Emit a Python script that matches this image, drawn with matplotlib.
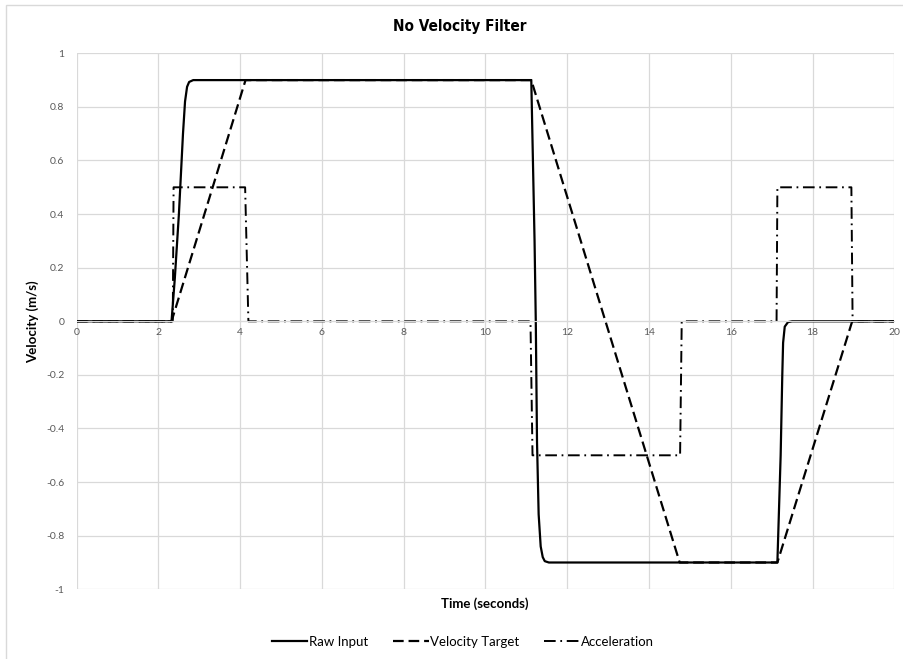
import matplotlib
matplotlib.use("Agg")
import matplotlib.pyplot as plt
from matplotlib.patches import Rectangle

plt.rcParams["font.family"] = ["Lato", "DejaVu Sans"]

# Raw Input (solid)
raw_t = [0, 2.32, 2.4, 2.5, 2.6, 2.65, 2.7, 2.75, 2.85,
         11.12, 11.2, 11.23, 11.26, 11.3, 11.35, 11.4, 11.45, 11.55,
         17.14, 17.18, 17.22, 17.26, 17.28, 17.32, 17.4, 17.5, 20]
raw_v = [0, 0, 0.16, 0.40, 0.70, 0.82, 0.875, 0.893, 0.9,
         0.9, 0.3, 0.0, -0.45, -0.72, -0.84, -0.88, -0.895, -0.9,
         -0.9, -0.7, -0.5, -0.2, -0.08, -0.02, -0.003, 0, 0]

# Velocity Target (dashed)
target_t = [0, 2.32, 4.13, 11.12, 14.75, 17.14, 18.97, 20]
target_v = [0, 0, 0.9, 0.9, -0.9, -0.9, 0, 0]

# Acceleration (dash-dot)
accel_t = [0, 2.35, 2.37, 4.12, 4.2, 11.1, 11.15, 14.76, 14.8, 17.12, 17.14, 18.95, 18.98, 20]
accel_v = [0, 0, 0.5, 0.5, 0, 0, -0.5, -0.5, 0, 0, 0.5, 0.5, 0, 0]

x_ticks = [0, 2, 4, 6, 8, 10, 12, 14, 16, 18, 20]
y_ticks = [1, 0.8, 0.6, 0.4, 0.2, 0, -0.2, -0.4, -0.6, -0.8, -1]
y_tick_labels = ["1", "0.8", "0.6", "0.4", "0.2", "0", "-0.2", "-0.4", "-0.6", "-0.8", "-1"]

W, H = 904, 659
fig = plt.figure(figsize=(W / 100, H / 100), dpi=100)
fig.patch.set_facecolor("white")
fig.patches.append(Rectangle((6 / W, -0.5), 1.5, 1.5 - 5 / H, transform=fig.transFigure,
                             fill=False, edgecolor="#d9d9d9", linewidth=1.0))

ax = fig.add_axes([76.7 / W, 1 - 589.3 / H, (894.3 - 76.7) / W, (589.3 - 53.3) / H])
ax.set_xlim(0, 20)
ax.set_ylim(-1, 1)
ax.set_axisbelow(True)

ax.plot(raw_t, raw_v, color="black", lw=1.6, label="Raw Input", solid_joinstyle="round")
ax.plot(target_t, target_v, color="black", lw=1.6, dashes=(4.8, 2.2), label="Velocity Target")
ax.plot(accel_t, accel_v, color="black", lw=1.4, dashes=(6.0, 2.4, 0.9, 2.4), label="Acceleration")

ax.set_xticks(x_ticks)
ax.set_yticks(y_ticks)
ax.set_yticklabels(y_tick_labels)
ax.grid(True, color="#d9d9d9", lw=0.9)
ax.tick_params(length=0, labelsize=7.5, labelcolor="#595959")
ax.tick_params(axis="x", pad=5)
ax.tick_params(axis="y", pad=9)

for name in ["top", "right", "left"]:
    ax.spines[name].set_visible(False)
ax.spines["bottom"].set_position(("data", 0))
ax.spines["bottom"].set_color("#d9d9d9")

fig.text(460 / W, 1 - 27 / H, "No Velocity Filter", ha="center", va="center",
         fontsize=11, fontweight="bold", fontstretch="condensed",
         family=["DejaVu Sans"])
fig.text(33 / W, 1 - 322 / H, "Velocity (m/s)", rotation=90, ha="center", va="center",
         fontsize=9.5, fontweight="bold")
fig.text(485 / W, 1 - 604 / H, "Time (seconds)", ha="center", va="center",
         fontsize=9.5, fontweight="bold")

fig.legend(loc="center", bbox_to_anchor=(463 / W, 1 - 642 / H), ncol=3, frameon=False,
           fontsize=9.5, handlelength=2.7, handletextpad=0.1, columnspacing=1.9)

fig.savefig("out.png", dpi=100)
